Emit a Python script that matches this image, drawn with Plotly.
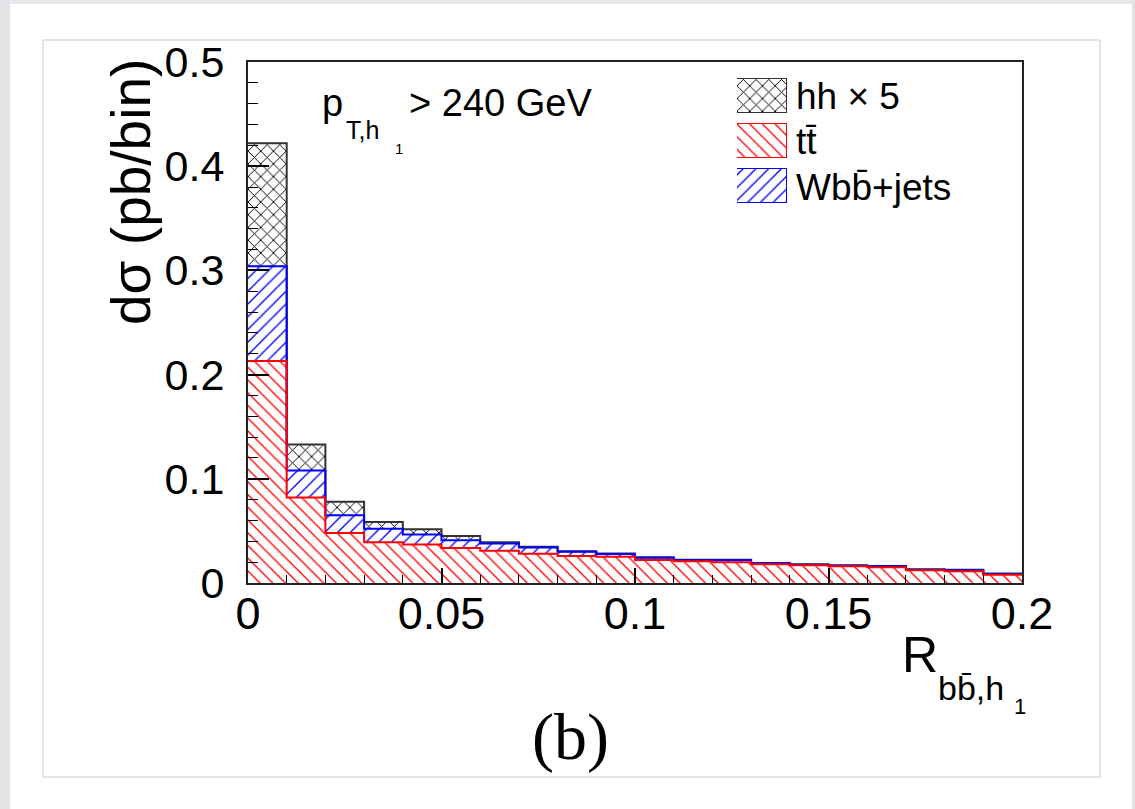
import numpy as np
import plotly.graph_objects as go

# ---------------- data ----------------
bin_edges = [0.00, 0.01, 0.02, 0.03, 0.04, 0.05, 0.06, 0.07, 0.08, 0.09, 0.10,
             0.11, 0.12, 0.13, 0.14, 0.15, 0.16, 0.17, 0.18, 0.19, 0.20]
ttbar = [0.213, 0.082, 0.048, 0.039, 0.037, 0.0336, 0.031, 0.028, 0.026, 0.0252,
         0.022, 0.0208, 0.0198, 0.018, 0.017, 0.016, 0.015, 0.0122, 0.0112, 0.008]
wbb_jets = [0.091, 0.026, 0.017, 0.013, 0.0095, 0.0074, 0.007, 0.006, 0.004, 0.0026,
            0.0023, 0.0012, 0.0022, 0.0009, 0.0006, 0.0006, 0.001, 0.0006, 0.001, 0.0006]
hh_x5 = [0.118, 0.025, 0.013, 0.0065, 0.005, 0.004, 0.001, 0.0008, 0.0005, 0.0004,
         0.0004, 0.0004, 0.0004, 0.0004, 0.0004, 0.0004, 0.0004, 0.0004, 0.0004, 0.0004]

legend_keys = ["Wbb", "tt", "hh"]
legend_texts = {"hh": "hh \u00d7 5", "tt": "tt\u0304", "Wbb": "Wbb\u0304+jets"}

x_ticks = [0, 0.05, 0.1, 0.15, 0.2]
x_ticktext = ["0", "0.05", "0.1", "0.15", "0.2"]
y_ticks = [0, 0.1, 0.2, 0.3, 0.4, 0.5]
y_ticktext = ["0", "0.1", "0.2", "0.3", "0.4", "0.5"]

# ---------------- geometry ----------------
W, H = 1135, 809
L, R, T, B = 248, 1022, 62, 583


def px(x, y):
    return (x - L) / (R - L), (B - y) / (B - T)


FONT = "Liberation Sans, Arial, sans-serif"

bin_lo = bin_edges[:-1]
styles = {
    "tt": dict(vals=ttbar, shape="\\", color="#ff0000", line="#ff0000", size=9, sol=0.15),
    "Wbb": dict(vals=wbb_jets, shape="/", color="#0000ff", line="#0000ff", size=9, sol=0.15),
    "hh": dict(vals=hh_x5, shape="x", color="#000000", line="#333333", size=9, sol=0.2),
}

fig = go.Figure()

# hatched stacked bars
for key in ["tt", "Wbb", "hh"]:
    s = styles[key]
    fig.add_trace(go.Bar(
        x=bin_lo, y=s["vals"], width=0.01, offset=0,
        marker=dict(color="white", line=dict(width=0),
                    pattern=dict(shape=s["shape"], fgcolor=s["color"], bgcolor="white",
                                 size=s["size"], solidity=s["sol"], fillmode="replace")),
        showlegend=False, hoverinfo="skip"))

# histogram outlines (step lines), drawn from the top of the stack down
cum_tt = np.array(ttbar)
cum_w = cum_tt + np.array(wbb_jets)
cum_h = cum_w + np.array(hh_x5)
for cum, key in [(cum_h, "hh"), (cum_w, "Wbb"), (cum_tt, "tt")]:
    fig.add_trace(go.Scatter(
        x=bin_edges, y=list(cum) + [cum[-1]], mode="lines",
        line=dict(shape="hv", color=styles[key]["line"], width=2),
        showlegend=False, hoverinfo="skip"))

# legend patches on a small overlay axis
for key in legend_keys:
    s = styles[key]
    fig.add_trace(go.Bar(
        x=[1], y=[key], orientation="h", width=[0.75], xaxis="x2", yaxis="y2",
        marker=dict(color="white", line=dict(width=1.5, color=s["line"]),
                    pattern=dict(shape=s["shape"], fgcolor=s["color"], bgcolor="white",
                                 size=s["size"], solidity=s["sol"], fillmode="replace")),
        showlegend=False, hoverinfo="skip"))

y2_lo = px(0, 208.9)[1]
y2_hi = px(0, 73.1)[1]
x2_lo = px(737, 0)[0]
x2_hi = px(787, 0)[0]

fig.update_layout(
    width=W, height=H,
    margin=dict(l=L, r=W - R, t=T, b=H - B, pad=0),
    paper_bgcolor="white", plot_bgcolor="white",
    barmode="stack", bargap=0,
    font=dict(family=FONT, color="black"),
    xaxis=dict(range=[0, 0.2], tickvals=x_ticks, ticktext=x_ticktext,
               ticks="inside", ticklen=15, tickwidth=1.5, tickcolor="black",
               showline=True, linecolor="#222", linewidth=2, mirror=True,
               showgrid=False, zeroline=False, tickfont=dict(size=45),
               ticklabelstandoff=-10,
               minor=dict(dtick=0.01, ticks="inside", ticklen=8, tickcolor="black", tickwidth=1.2),
               fixedrange=True),
    yaxis=dict(range=[0, 0.5], tickvals=y_ticks, ticktext=y_ticktext,
               ticks="inside", ticklen=21, tickwidth=1.5, tickcolor="black",
               showline=True, linecolor="#222", linewidth=2, mirror=True,
               showgrid=False, zeroline=False, tickfont=dict(size=43),
               ticklabelstandoff=13,
               minor=dict(dtick=0.02, ticks="inside", ticklen=10, tickcolor="black", tickwidth=1.2),
               fixedrange=True),
    xaxis2=dict(domain=[x2_lo, x2_hi], range=[0, 1], visible=False, anchor="y2", fixedrange=True),
    yaxis2=dict(domain=[y2_lo, y2_hi], type="category", categoryorder="array",
                categoryarray=legend_keys, range=[-0.5, 2.5], visible=False, anchor="x2",
                fixedrange=True),
)

ann = []


def add_text(text, x, y, size, xanchor="left", yanchor="middle", family=FONT, angle=0):
    xp, yp = px(x, y)
    ann.append(dict(text=text, x=xp, y=yp, xref="paper", yref="paper", showarrow=False,
                    xanchor=xanchor, yanchor=yanchor, textangle=angle,
                    font=dict(size=size, family=family, color="black")))


# legend labels
add_text(legend_texts["hh"], 794, 96, 37)
add_text(legend_texts["tt"], 794, 141, 37)
add_text(legend_texts["Wbb"], 794, 187, 37)

# kinematic cut label
add_text("p", 320, 103, 38)
add_text("T,h", 344, 130, 25)
add_text("1", 393, 148, 15)
add_text("> 240 GeV", 407, 103, 38)

# y axis title
add_text("d\u03c3 (pb/bin)", 131, 192, 55, xanchor="center", angle=-90)

# x axis title
add_text("R", 900, 655, 50)
add_text("bb\u0304,h", 936, 688, 34)
add_text("1", 1012, 706, 22)

# panel label
add_text("(b)", 570, 737, 66, xanchor="center", family="Liberation Serif, Times New Roman, serif")

fig.update_layout(annotations=ann)

# page frame decorations
shapes = []


def rect(x0, y0, x1, y1, **kw):
    a = px(x0, y0)
    b = px(x1, y1)
    shapes.append(dict(type="rect", xref="paper", yref="paper",
                       x0=a[0], y0=a[1], x1=b[0], y1=b[1], **kw))


rect(0, 0, W, 4, fillcolor="#e7e8ec", line=dict(width=0))
rect(0, 0, 10, H, fillcolor="#e2e3e6", line=dict(width=0))
rect(1132, 0, W, H, fillcolor="#e2e3e6", line=dict(width=0))
rect(43, 40, 1100, 777, fillcolor="rgba(0,0,0,0)", line=dict(width=1.5, color="#dcdcdc"))
fig.update_layout(shapes=shapes)

fig.write_html("out.html", config={"displayModeBar": False},
               post_script="document.body.style.margin='0';")
